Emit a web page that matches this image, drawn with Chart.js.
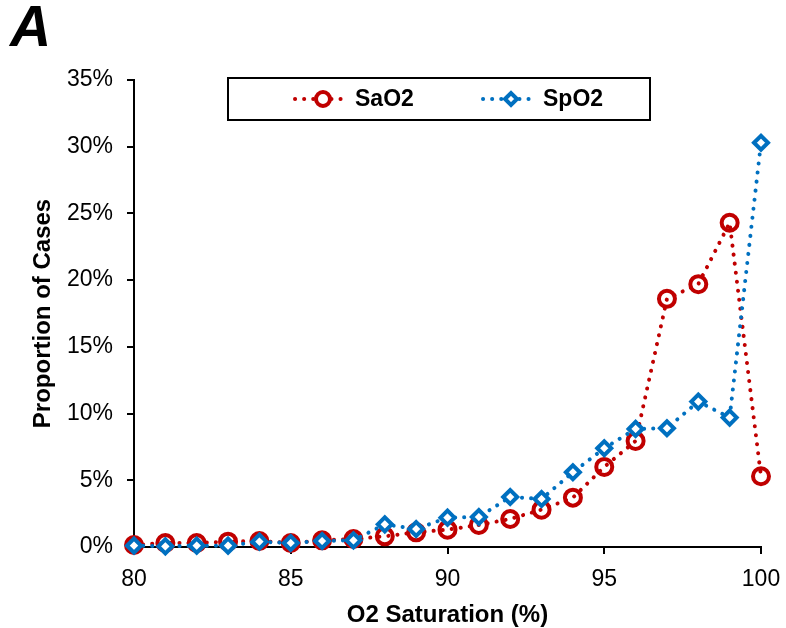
<!DOCTYPE html>
<html>
<head>
<meta charset="utf-8">
<script src="https://cdn.jsdelivr.net/npm/chart.js@4.4.0/dist/chart.umd.min.js"></script>
<style>
  body { margin: 0; background: #fff; }
</style>
</head>
<body>
<canvas id="grafico" width="786" height="628"></canvas>
<script>
var saturacao = [80, 81, 82, 83, 84, 85, 86, 87, 88, 89, 90, 91, 92, 93, 94, 95, 96, 97, 98, 99, 100];
var sao2 = [0.15, 0.3, 0.3, 0.4, 0.45, 0.3, 0.5, 0.6, 0.8, 1.1, 1.3, 1.65, 2.1, 2.8, 3.7, 6.0, 7.95, 18.6, 19.7, 24.3, 5.3];
var spo2 = [0.1, 0.05, 0.1, 0.1, 0.4, 0.3, 0.45, 0.5, 1.7, 1.35, 2.2, 2.25, 3.75, 3.6, 5.6, 7.4, 8.85, 8.9, 10.9, 9.7, 30.3];
var yTicks = [0, 5, 10, 15, 20, 25, 30, 35];
var xTicks = [80, 85, 90, 95, 100];

var fonte = '"Liberation Sans", Arial, sans-serif';
var vermelho = '#C00000';
var azul = '#0070C0';

function pontos(valores) {
  return saturacao.map(function (x, i) { return { x: x, y: valores[i] }; });
}

// legenda com caixa, linha pontilhada e marcador
var legendaCaixa = {
  id: 'legendaCaixa',
  beforeDraw: function (chart) {
    var ctx = chart.ctx;
    ctx.save();
    ctx.fillStyle = '#fff';
    ctx.fillRect(0, 0, chart.width, chart.height);
    ctx.restore();
  },
  afterDraw: function (chart) {
    var ctx = chart.ctx;
    ctx.save();
    ctx.fillStyle = '#000';
    ctx.font = 'italic bold 57px ' + fonte;
    ctx.textBaseline = 'alphabetic';
    ctx.fillText('A', 10, 46);

    ctx.lineWidth = 2;
    ctx.strokeStyle = '#000';
    ctx.strokeRect(228, 78, 422, 42);

    var itens = [{ ds: 0, x: 295 }, { ds: 1, x: 483 }];
    itens.forEach(function (it) {
      var ds = chart.data.datasets[it.ds];
      var y = 99;
      ctx.save();
      ctx.strokeStyle = ds.borderColor;
      ctx.lineWidth = ds.borderWidth;
      ctx.lineCap = 'round';
      ctx.setLineDash(ds.borderDash);
      ctx.beginPath();
      ctx.moveTo(it.x, y);
      ctx.lineTo(it.x + 48, y);
      ctx.stroke();
      ctx.restore();

      ctx.save();
      ctx.fillStyle = '#fff';
      ctx.strokeStyle = ds.pointBorderColor;
      ctx.lineWidth = ds.pointBorderWidth;
      Chart.helpers.drawPoint(ctx, {
        pointStyle: ds.pointStyle,
        radius: ds.pointRadius - 1,
        borderWidth: ds.pointBorderWidth,
        rotation: 0
      }, it.x + 28, y);
      ctx.restore();

      ctx.fillStyle = '#000';
      ctx.font = 'bold 23px ' + fonte;
      ctx.textBaseline = 'middle';
      ctx.fillText(ds.label, it.x + 60, y + 1);
    });
    ctx.restore();
  }
};

var dados = {
  type: 'line',
  data: {
    datasets: [{
        label: 'SaO2',
        data: pontos(sao2),
        borderColor: vermelho,
        backgroundColor: 'rgba(0,0,0,0)',
        borderWidth: 4,
        borderDash: [0.1, 9],
        borderCapStyle: 'round',
        pointStyle: 'circle',
        pointRadius: 8,
        pointBorderWidth: 4,
        pointBorderColor: vermelho,
        pointBackgroundColor: 'rgba(0,0,0,0)',
        clip: false,
        order: 1
      },
      {
        label: 'SpO2',
        data: pontos(spo2),
        borderColor: azul,
        backgroundColor: 'rgba(0,0,0,0)',
        borderWidth: 4,
        borderDash: [0.1, 9],
        borderCapStyle: 'round',
        pointStyle: 'rectRot',
        pointRadius: 7,
        pointBorderWidth: 4,
        pointBorderColor: azul,
        pointBackgroundColor: '#fff',
        clip: false,
        order: 0
    }]
  },
  options: {
    responsive: false,
    animation: false,
    layout: { padding: { left: 0, right: 25, top: 80, bottom: 0 } },
    plugins: {
      legend: { display: false },
      tooltip: { enabled: false }
    },
    scales: {
      x: {
        type: 'linear',
        min: 80,
        max: 100,
        afterBuildTicks: function (scale) {
          scale.ticks = xTicks.map(function (v) { return { value: v }; });
        },
        afterFit: function (scale) {
          scale.height = 81;
          scale.paddingLeft = 0;
          scale.paddingRight = 0;
        },
        border: { color: '#000', width: 2 },
        grid: { drawOnChartArea: false, drawTicks: true, tickLength: 7, color: '#000', lineWidth: 2 },
        ticks: { color: '#000', font: { family: fonte, size: 23 }, padding: 12, maxRotation: 0 },
        title: {
          display: true,
          text: 'O2 Saturation (%)',
          color: '#000',
          font: { family: fonte, size: 24, weight: 'bold', lineHeight: 1 },
          padding: { top: 0, bottom: 1 }
        }
      },
      y: {
        min: 0,
        max: 35,
        afterBuildTicks: function (scale) {
          scale.ticks = yTicks.map(function (v) { return { value: v }; });
        },
        afterFit: function (scale) {
          scale.width = 134;
          scale.paddingTop = 0;
          scale.paddingBottom = 0;
        },
        border: { color: '#000', width: 2 },
        grid: { drawOnChartArea: false, drawTicks: true, tickLength: 7, color: '#000', lineWidth: 2 },
        ticks: {
          color: '#000',
          font: { family: fonte, size: 23 },
          padding: 14,
          callback: function (v) { return v + '%'; }
        },
        title: {
          display: true,
          text: 'Proportion of Cases',
          color: '#000',
          font: { family: fonte, size: 24, weight: 'bold', lineHeight: 1 },
          padding: { top: 31, bottom: 0 }
        }
      }
    }
  },
  plugins: [legendaCaixa]
};
new Chart(document.getElementById('grafico').getContext('2d'), dados);
</script>
</body>
</html>
